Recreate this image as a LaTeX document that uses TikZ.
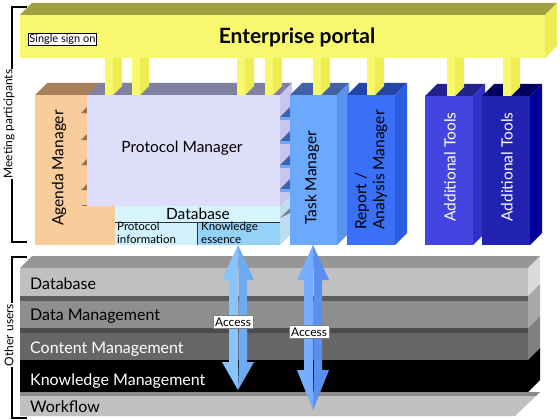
\documentclass[tikz,border=0pt]{standalone}
\usepackage{fontspec}
\setmainfont{Lato}

% colours
\definecolor{portalFront}{RGB}{248,248,110}
\definecolor{portalTop}{RGB}{160,160,64}
\definecolor{portalSide}{RGB}{236,236,84}
\definecolor{pillarSide}{RGB}{238,238,82}
\definecolor{agendaFront}{RGB}{249,204,156}
\definecolor{agendaTop}{RGB}{168,128,92}
\definecolor{agendaPort}{RGB}{150,112,76}
\definecolor{pmFront}{RGB}{222,222,250}
\definecolor{pmTop}{RGB}{128,128,160}
\definecolor{pmSide}{RGB}{198,198,238}
\definecolor{dbHead}{RGB}{214,244,252}
\definecolor{dbLeft}{RGB}{208,240,252}
\definecolor{dbRight}{RGB}{148,210,250}
\definecolor{dbSide}{RGB}{190,222,240}
\definecolor{tmFront}{RGB}{108,168,252}
\definecolor{tmTop}{RGB}{66,98,168}
\definecolor{tmSide}{RGB}{90,148,236}
\definecolor{raFront}{RGB}{58,112,248}
\definecolor{raTop}{RGB}{36,68,168}
\definecolor{raSide}{RGB}{44,92,224}
\definecolor{atAFront}{RGB}{68,68,224}
\definecolor{atATop}{RGB}{34,34,140}
\definecolor{atASide}{RGB}{48,48,200}
\definecolor{atBFront}{RGB}{34,34,176}
\definecolor{atBTop}{RGB}{0,0,96}
\definecolor{atBSide}{RGB}{0,0,152}
\definecolor{arrowALight}{RGB}{136,196,255}
\definecolor{arrowADark}{RGB}{110,170,240}
\definecolor{arrowBLight}{RGB}{120,174,255}
\definecolor{arrowBDark}{RGB}{90,142,240}
\definecolor{stackTop}{RGB}{150,150,150}
\definecolor{dbLayer}{RGB}{192,192,192}
\definecolor{dbLayerSide}{RGB}{218,218,218}
\definecolor{dmBand}{RGB}{92,92,92}
\definecolor{dmLayer}{RGB}{142,142,142}
\definecolor{dmLayerSide}{RGB}{168,168,168}
\definecolor{cmBand}{RGB}{76,76,76}
\definecolor{cmLayer}{RGB}{102,102,102}
\definecolor{cmLayerSide}{RGB}{128,128,128}
\definecolor{wfBand}{RGB}{138,138,138}
\definecolor{wfLayer}{RGB}{192,192,192}

\tikzset{
  box text/.style={inner sep=0pt, font=\fontsize{15.5}{18}\selectfont},
  layer text/.style={inner sep=0pt, anchor=west, font=\fontsize{16}{18}\selectfont},
  small text/.style={inner sep=0pt, anchor=north west, align=left,
    font=\fontsize{11.5}{12.5}\selectfont},
  access label/.style={draw=gray, fill=white, inner sep=2pt,
    font=\fontsize{12}{14}\selectfont},
  side label/.style={fill=white, inner sep=1pt, rotate=90,
    font=\fontsize{12}{14}\selectfont},
  bracket/.style={draw=black, line width=1.2pt}
}

% 3D block: x, y (top left of front), width, height, front, top, side
\newcommand{\cubebox}[7]{%
  \fill[#6] (#1,#2) -- ++(12,-12) -- ++(#3,0) -- ++(-12,12) -- cycle;
  \fill[#7] (#1+#3,#2) -- ++(12,-12) -- ++(0,#4) -- ++(-12,12) -- cycle;
  \fill[#5] (#1,#2) rectangle ++(#3,#4);
}
% one storey of the lower stack: y top, y front, y bottom, band, front, side
\newcommand{\storey}[6]{%
  \fill[#6] (528,#1) -- (540,#1-12) -- (540,#3-12) -- (528,#3) -- cycle;
  \fill[#4] (20,#1) rectangle (528,#2);
  \fill[#5] (20,#2) rectangle (528,#3);
}
% double arrow: centre x, tip, head, head, tip, light, dark
\newcommand{\accessarrow}[7]{%
  \fill[#6] (#1,#2) -- (#1-16,#3) -- (#1-9,#3) -- (#1-9,#4) -- (#1-16,#4)
    -- (#1,#5) -- cycle;
  \fill[#7] (#1,#2) -- (#1+16,#3) -- (#1+9,#3) -- (#1+9,#4) -- (#1+16,#4)
    -- (#1,#5) -- (#1+1,#4) -- (#1+1,#3) -- cycle;
}
% yellow connector from the portal down to a block
\newcommand{\pillar}[2]{%
  \fill[portalFront] (#1,58) rectangle (#1+8,#2);
  \fill[pillarSide] (#1+8,58) -- (#1+17,58) -- (#1+17,#2-9) -- (#1+8,#2) -- cycle;
}

\begin{document}
\begin{tikzpicture}[x=1pt,y=-1pt]
\useasboundingbox (0,0) rectangle (560,420);
\fill[white] (0,0) rectangle (560,420);

% ------------------------------------------------
% lower stack (other users)
% ------------------------------------------------
\fill[stackTop] (20,268) -- (32,256) -- (540,256) -- (528,268) -- cycle;
\storey{268}{268}{296}{dbLayer}{dbLayer}{dbLayerSide}
\storey{296}{301}{328}{dmBand}{dmLayer}{dmLayerSide}
\storey{328}{333}{360}{cmBand}{cmLayer}{cmLayerSide}
\storey{360}{360}{392}{black}{black}{black}
\fill[wfBand] (20,392) -- (540,392) -- (536,396) -- (20,396) -- cycle;
\fill[wfLayer] (20,396) -- (536,396) -- (515,416) -- (20,416) -- cycle;

\node[layer text]             (lDb) at (30,284) {Database};
\node[layer text]             (lDm) at (30,316) {Data Management};
\node[layer text, text=white] (lCm) at (30,349) {Content Management};
\node[layer text, text=white] (lKm) at (30,381) {Knowledge Management};
\node[layer text]             (lWf) at (30,407) {Workflow};

% ------------------------------------------------
% access arrows
% ------------------------------------------------
\accessarrow{238}{245}{280}{362}{390}{arrowALight}{arrowADark}
\accessarrow{313}{245}{280}{370}{410}{arrowBLight}{arrowBDark}
\node[access label] (acA) at (233,322) {Access};
\node[access label] (acB) at (309,332) {Access};

% ------------------------------------------------
% meeting modules
% ------------------------------------------------
\cubebox{35}{95}{80}{150}{agendaFront}{agendaTop}{agendaFront}
\foreach \y in {113,140,165,190} {
  \fill[agendaPort] (81,\y) -- (87,\y-6) -- (87,\y) -- cycle;
}
\draw[agendaPort, line width=1.5pt] (82,205.5) -- (115,205.5);

% database under the protocol manager
\fill[dbSide] (280,206) -- (292,194) -- (292,233) -- (280,245) -- cycle;
\fill[gray] (280,218) -- (292,206) -- (292,212) -- (280,218) -- cycle;
\fill[dbHead] (115,206) rectangle (280,222);
\fill[dbLeft] (115,222) rectangle (197,245);
\fill[dbRight] (197,222) rectangle (280,245);
\draw[black!80, line width=0.8pt] (115,222) -- (280,222);
\draw[black!80, line width=0.8pt] (197,222) -- (197,245);

\cubebox{87}{95}{193}{111}{pmFront}{pmTop}{pmSide}
\foreach \y in {117,141,165,189} {
  \fill[tmTop] (280,\y) -- (292,\y-12) -- (292,\y) -- cycle;
  \fill[tmFront] (280,\y) rectangle (292,\y+3);
}

\node[box text] (pm) at (182,148) {Protocol Manager};
\node[box text] (db) at (198,214) {Database};
\node[small text] (pInfo) at (117,222) {Protocol\\information};
\node[small text] (kEss) at (201,222) {Knowledge\\essence};
\node[box text, rotate=90] (agenda) at (59,168) {Agenda Manager};

\cubebox{290}{95}{47}{150}{tmFront}{tmTop}{tmSide}
\cubebox{347}{95}{48}{150}{raFront}{raTop}{raSide}
\cubebox{425}{96}{48}{149}{atAFront}{atATop}{atASide}
\cubebox{482}{96}{48}{149}{atBFront}{atBTop}{atBSide}

\node[box text, rotate=90] (task) at (312,178) {Task Manager};
\node[box text, rotate=90, align=left] (report) at (371,170)
  {Report /\\Analysis Manager};
\node[box text, rotate=90, text=white] (toolsA) at (450,167) {Additional Tools};
\node[box text, rotate=90, text=white] (toolsB) at (507,167) {Additional Tools};

% ------------------------------------------------
% enterprise portal
% ------------------------------------------------
\cubebox{20}{15}{525}{43}{portalFront}{portalTop}{portalSide}
\foreach \x/\b in {105/95,132/95,237/95,265/95,313/95,367/95,447/96,503/96} {
  \pillar{\x}{\b}
}
\node[font=\bfseries\fontsize{21}{24}\selectfont] (portal) at (297,37)
  {Enterprise portal};
\node[draw=black, fill=white, inner sep=1pt, font=\fontsize{11}{12}\selectfont]
  (sso) at (62.5,39.5) {Single sign on};

% ------------------------------------------------
% brackets
% ------------------------------------------------
\coordinate (mTop) at (27,7);
\coordinate (mBot) at (27,242);
\coordinate (oTop) at (27,257);
\coordinate (oBot) at (27,418);
\draw[bracket] (mTop) -- (12,7) -- (12,242) -- (mBot);
\draw[bracket] (oTop) -- (12,257) -- (12,418) -- (oBot);
\node[side label] (meet) at (9,124) {Meeting participants};
\node[side label] (other) at (9,335) {Other users};
\end{tikzpicture}
\end{document}
